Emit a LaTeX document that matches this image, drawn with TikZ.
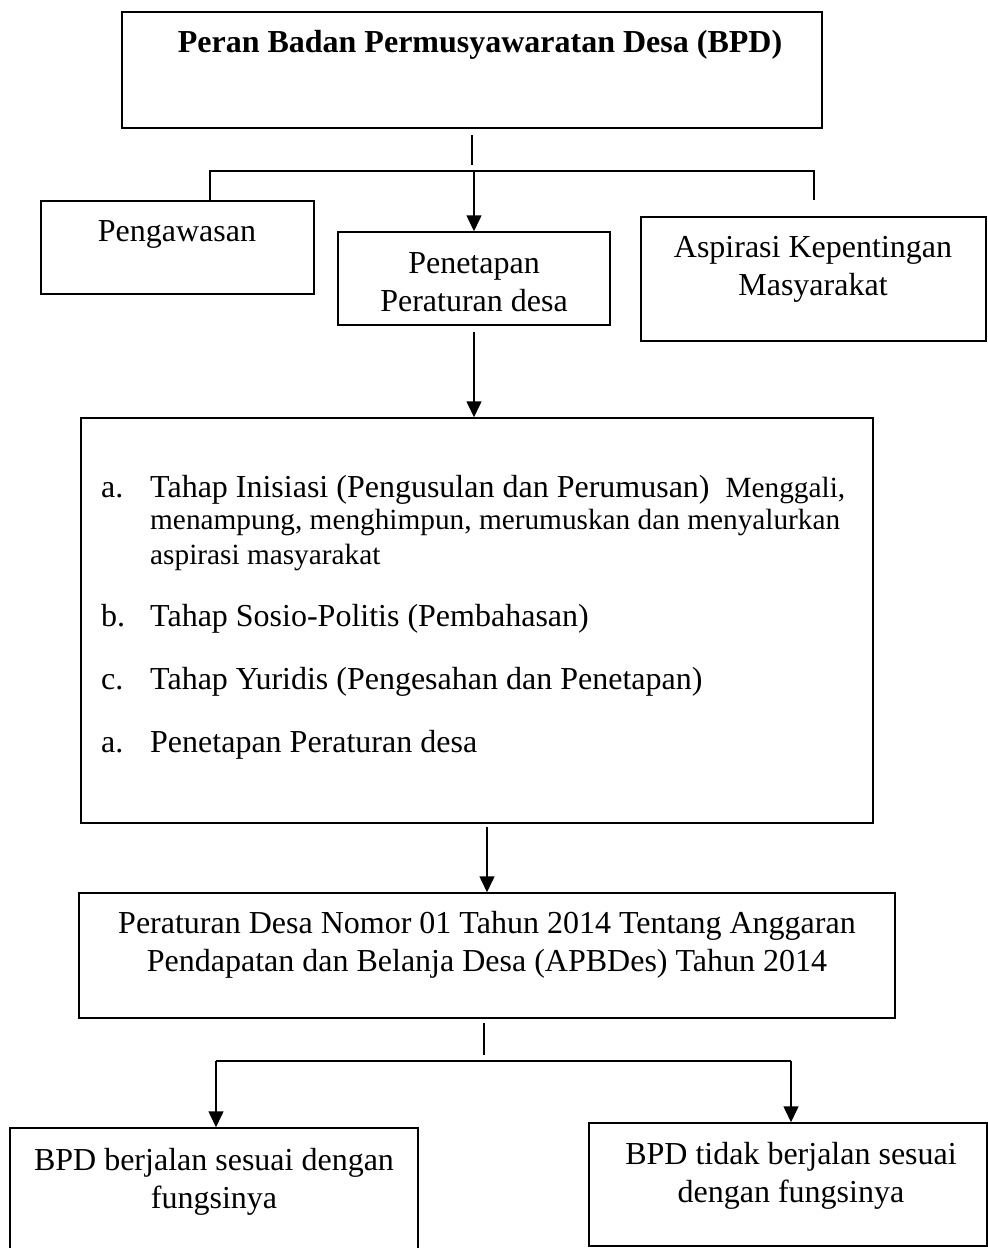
\documentclass[tikz,border=0pt]{standalone}
\usepackage{fontspec}
\setmainfont{Liberation Serif}
\usetikzlibrary{arrows.meta}
\begin{document}
\begin{tikzpicture}[x=1pt,y=-1pt,
  box/.style={draw,line width=1.5pt,inner sep=0pt},
  lbl/.style={font=\fontsize{32}{38}\selectfont,align=center,inner sep=0pt},
  item/.style={font=\fontsize{32}{38}\selectfont,anchor=base west,inner sep=0pt},
  small/.style={font=\fontsize{29.3}{33}\selectfont,anchor=base west,inner sep=0pt},
  conn/.style={line width=1.5pt},
  arr/.style={line width=1.5pt,-{Triangle[length=16pt,width=15pt]}}]
\useasboundingbox (0,0) rectangle (988,1248);

% boxes
\node[box,minimum width=700pt,minimum height=116pt] (top) at (472,70) {};
\node[lbl,font=\fontsize{32}{38}\selectfont\bfseries] (title) at (480,45) {Peran Badan Permusyawaratan Desa (BPD)};

\node[box,minimum width=273pt,minimum height=93pt] (peng) at (177.5,247.5) {};
\node[lbl] (pengt) at (177,234) {Pengawasan};

\node[box,minimum width=272pt,minimum height=93pt] (pen) at (474,278.5) {};
\node[lbl] (pent) at (474,282) {Penetapan\\Peraturan desa};

\node[box,minimum width=345pt,minimum height=124pt] (asp) at (813.5,279) {};
\node[lbl] (aspt) at (813,269) {Aspirasi Kepentingan\\Masyarakat};

\node[box,minimum width=792pt,minimum height=405pt] (big) at (477,620.5) {};
\node[item] (la) at (101,497) {a.};
\node[item] (ta) at (150,497) {Tahap Inisiasi (Pengusulan dan Perumusan)\ \ {\fontsize{29.3}{33}\selectfont Menggali,}};
\node[small] (ta2) at (150,529) {menampung, menghimpun, merumuskan dan menyalurkan};
\node[small] (ta3) at (150,564) {aspirasi masyarakat};
\node[item] (lb) at (101,626) {b.};
\node[item] (tb) at (150,626) {Tahap Sosio-Politis (Pembahasan)};
\node[item] (lc) at (101,689) {c.};
\node[item] (tc) at (150,689) {Tahap Yuridis (Pengesahan dan Penetapan)};
\node[item] (ld) at (101,752) {a.};
\node[item] (td) at (150,752) {Penetapan Peraturan desa};

\node[box,minimum width=816pt,minimum height=125pt] (apb) at (487,955.5) {};
\node[lbl] (apbt) at (487,945) {Peraturan Desa Nomor 01 Tahun 2014 Tentang Anggaran\\Pendapatan dan Belanja Desa (APBDes) Tahun 2014};

\node[box,minimum width=408pt,minimum height=134pt] (left) at (214,1195) {};
\node[lbl] (leftt) at (214,1182) {BPD berjalan sesuai dengan\\fungsinya};

\node[box,minimum width=398pt,minimum height=123pt] (right) at (788,1184.5) {};
\node[lbl] (rightt) at (791,1175.5) {BPD tidak berjalan sesuai\\dengan fungsinya};

% connectors top
\coordinate (t1) at (472,135);
\coordinate (t2) at (472,165);
\draw[conn] (t1) -- (t2);
\coordinate (hl) at (210,171);
\coordinate (hr) at (814,171);
\coordinate (hm) at (474,171);
\coordinate (hrd) at (814,200);
\draw[conn] (peng.north -| hl) -- (hl) -- (hr) -- (hrd);
\draw[arr] (hm) -- (pen.north);

% penetapan to big
\coordinate (p1) at (474,332);
\draw[arr] (p1) -- (p1 |- big.north);

% big to apbdes
\coordinate (b1) at (487,827);
\draw[arr] (b1) -- (apb.north);

% apbdes to results
\coordinate (a1) at (484,1023);
\coordinate (a2) at (484,1055);
\draw[conn] (a1) -- (a2);
\coordinate (bl) at (216,1061);
\coordinate (br) at (791,1061);
\draw[conn] (bl) -- (br);
\draw[arr] (bl) -- (bl |- left.north);
\draw[arr] (br) -- (br |- right.north);
\end{tikzpicture}
\end{document}
